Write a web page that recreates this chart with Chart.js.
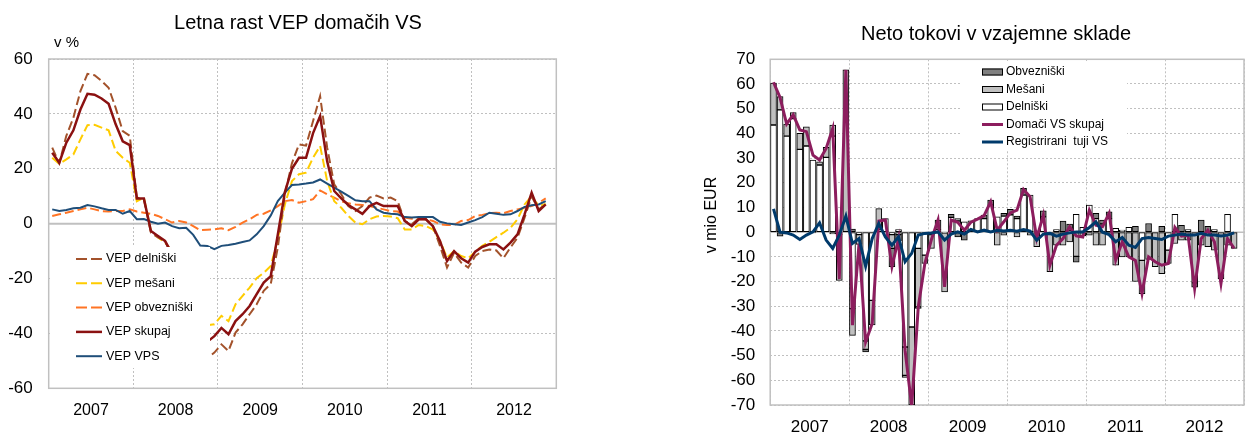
<!DOCTYPE html>
<html lang="sl">
<head>
<meta charset="utf-8">
<title>VEP in neto tokovi v vzajemne sklade</title>
<script src="https://cdn.jsdelivr.net/npm/chart.js@4.4.1/dist/chart.umd.min.js"></script>
<style>
  html, body { margin: 0; padding: 0; background: #fff; overflow: hidden; }
  body { width: 1246px; height: 437px; position: relative; }
  canvas { position: absolute; top: 0; }
  #vepChart { left: 0; }
  #flowChart { left: 660px; }
</style>
</head>
<body>
<canvas id="vepChart" width="596" height="437"></canvas>
<canvas id="flowChart" width="596" height="437"></canvas>
<script>
// months Jan 2007 - Nov 2012 (71 values per series)
const years = ["2007", "2008", "2009", "2010", "2011", "2012"];

// Letna rast VEP domačih VS (v %)
const vepDelniski = [
  27.7, 22, 32, 38.6, 48.3, 54.6, 54.1, 52, 49.5, 42.2, 33.7, 32,
  9.5, 8.8, -3.3, -5, -6.3, -12, -21, -29, -37, -45, -49, -47,
  -44, -46.4, -39.7, -36.7, -33, -29.4, -24.5, -21.9, -8.7, 10.7, 22, 28.9,
  28.4, 37.4, 46.5, 27.7, 14.3, 10.7, 6.4, 4.6, 6.4, 9.5, 10.2, 9.2,
  9.5, 8.2, 1, -0.2, 2, 1.6, -0.9, -8.1, -16, -10.6, -14.2, -16,
  -11.8, -10, -9.4, -9.8, -12.6, -8.7, -5.1, 2.2, 9.9, 5.2, 7
];
const vepMesani = [
  24, 21.8, 23.4, 25.2, 30.7, 35.9, 36, 35, 34, 26.5, 24, 22.2,
  8.2, 9.5, -2.7, -5, -6.9, -10, -16, -22, -27, -33, -37, -36.7,
  -33.6, -35.5, -29.4, -26.3, -23.3, -19.9, -17.9, -15.4, -5.7, 7, 15.5, 18,
  18.6, 24, 28.3, 15.5, 8.2, 5.8, 2.8, 0.4, -0.2, 1.6, 2.6, 2.8,
  2.6, 2, -2.1, -2.1, -0.5, -0.9, -2.1, -6.3, -12.4, -10, -11.8, -12.6,
  -10.2, -8.1, -6.6, -4.9, -3.3, -1.5, 1.6, 7, 10, 6.4, 7.2
];
const vepObvezniski = [
  2.8, 3.4, 4, 4.6, 5.2, 5.8, 5.2, 4.6, 4.4, 4.6, 4.6, 5.2,
  4.4, 4, 3.6, 2.8, 1.6, 0.4, 1, 0.4, -0.9, -2.4, -2.2, -2.1,
  -1.7, -2.4, -1.2, 0.4, 1.6, 3.2, 3.6, 4.8, 6.4, 8.2, 8.6, 7.6,
  8.2, 8.9, 12.1, 10.7, 9.5, 8.2, 7.4, 7, 6.8, 6.4, 5.8, 5.2,
  4.6, 4.4, 2.2, 1.8, 1.6, 1.6, 1, -0.2, -0.5, -0.5, 1, 1.3,
  2.8, 3.2, 3.8, 4, 3.8, 4.6, 5.2, 5.8, 6.4, 7.6, 9.2
];
const vepSkupaj = [
  25.8, 22.2, 29.5, 34, 41.6, 47.3, 47, 45.6, 43.7, 36.2, 30, 28.6,
  9.2, 9.2, -2.7, -4.5, -6.3, -11, -18, -25, -32, -39, -43, -41,
  -38, -40.3, -35.5, -33, -30, -25.7, -21.5, -19.1, -3.9, 11.5, 20, 24,
  24, 33, 39.2, 22.7, 11.9, 9.2, 6.8, 5.2, 3.6, 6.4, 7.6, 6.4,
  6.4, 6.4, 1, -0.9, 1.6, 1.6, -0.9, -6.3, -13.6, -10, -12.6, -14.2,
  -10.2, -8.5, -7.5, -7.5, -9.4, -6.9, -3.9, 3.4, 11.3, 4.6, 7
];
const vepVps = [
  5.2, 4.6, 5, 5.6, 5.8, 6.8, 6.3, 5.6, 5, 5, 3.6, 4.6,
  1.6, 1.7, 0.7, 0, 0.4, -0.9, -1.7, -1.5, -4.1, -8, -8.1, -9.3,
  -8.1, -7.8, -7.3, -6.7, -6.1, -3.9, -0.9, 3, 8.2, 11.3, 14.1, 14.3,
  14.6, 15, 16.1, 14.6, 13.1, 11.7, 10.1, 8.5, 8.2, 8.2, 5.2, 4,
  3.6, 3.4, 2.4, 2.2, 2.4, 2.4, 2.4, 0.7, 0.1, -0.2, -0.5, 0.4,
  1.3, 2.4, 4, 3.6, 3.2, 3.4, 4.6, 6.1, 6.7, 7, 8.2
];

// Neto tokovi v vzajemne sklade (v mio EUR)
const flowDelniski = [
  43.4, 49.5, 38.9, 46, 33.5, 34.9, 29.2, 27.2, 30.3, 38.9, -1, 0,
  -31, -1, -44, -27.6, 1, 5.5, -1, 1, -46.5, -38.4, -6.6, -9.3,
  -1, 1, -0.3, 6, 4.5, 4.2, 4.6, 5.5, 5.5, 11, 6.2, 6.5,
  7, 5.5, 15, 15, 0.5, 6.2, 0, 1, 0, 0.5, 7.2, 2,
  11, 5.5, 3.3, 5.5, 1.5, 0.8, 2, 0, -11.4, 0, 0, 0,
  -7.3, 7.2, 0, 1, 0, 0, 0, 1, 0, 7.2, 0
];
const flowMesani = [
  17, 5.4, 4.9, 2.4, 6.5, 7.8, 0, 1.3, 4, 4.5, -18.5, 65.7,
  -10.8, -4, -3.5, -10, 8.5, 0, -5.6, -1, -11.5, -31.6, -23.7, -3.4,
  -5.6, 0, -23.9, 0, 1, 0, 0, 0, 0, 0, -5.3, -1.2,
  0, -1.9, 0, -1.2, -5.9, 0, -16, -5.3, -5.3, -4, -9.8, -1.5,
  -1.2, -5.3, -5.3, -1, -13.4, -10, -10, -20, -13.5, -11, -14, -16.8,
  -5.4, -4.6, -3.2, -3.2, -20.5, -5.3, -5.9, -7.3, -17.3, -5.3, -6.6
];
const flowObvezniski = [
  0, -1.6, -0.3, 0, 0, 0, -0.3, 0, 0, -0.7, 0, 0,
  1.2, 0, -1, 0, 0, 0, -7.4, -2.5, -0.8, 0, -0.6, 0,
  0, 3.9, 0, 1.2, -1.9, -3.2, 0, 0, 1.4, 2, 0, 1.1,
  2.2, 1, 2.7, 0, 0, 2.4, 0, 0, 4.5, 2.8, -2.4, 0,
  0, 2.1, 1.6, 2.7, 0, 0, 0, 2.4, 0, 3.5, 0, 2.4,
  0, 0, 2.8, 0, -1.8, 4.9, 2.4, 0, -1.5, 0, 0
];
const flowDomaci = [
  60.7, 54.5, 43.8, 47.5, 41.4, 40.7, 31.2, 29.2, 33.9, 42, -19, 65.7,
  -37.7, -4.6, -44.5, -37, 4.5, 4.9, -14, -2.6, -48, -70.5, -30.3, -12.7,
  -3, 4.9, -22.2, 4.9, 4, 0.8, 4, 5.3, 6.7, 12.3, 0.8, 4.2,
  7.8, 8.9, 17.3, 14.3, -2.5, 6.9, -13.4, -5.3, -2.6, 2.2, -1.5, -2,
  8.9, 2.8, 2.2, 7.6, -11.4, -3.9, -10, -11.5, -24.9, -10, -12, -13.4,
  -12.7, 1.9, -1.6, -1.2, -22.8, -2.6, 0.8, -3.9, -20.8, -2.6, -6.6
];
const flowTuji = [
  9.4, 0, -0.3, -1.2, -3, -1.2, 0.1, 3.8, -3.2, -6.6, -1.2, 6.5,
  -4.6, -2.6, -13.8, -2.6, 3.5, -1.9, -5.3, -1.9, -12, -8.6, -1.2, -0.5,
  -0.3, 0.1, -3.2, -0.8, 0.1, -0.8, 1.1, 0.1, 0.8, 0.1, 0.8, 0.5,
  0.8, 0.4, 1.1, 0.4, -3.3, -0.8, -0.5, -1.6, -0.8, -0.3, 0.1, 0.1,
  1.9, 4.2, 0, -1, -3.9, -2.2, -5.3, -6.2, -2.6, -2.2, -2.6, -3,
  -1.6, -1.2, -0.8, -1.2, -1.2, -0.5, -1.2, -1.2, -1.6, -1.2, -0.3
];

const FONT = "'Liberation Sans', Arial, sans-serif";
const GRID = "#C0C0C0";
Chart.defaults.font.family = FONT;
Chart.defaults.color = "#000";

function toPoints(values) {
  return values.map((v, i) => ({ x: i + 0.5, y: v }));
}

function yearTick(value) {
  return value % 12 === 6 ? years[(value - 6) / 12] : "";
}

// zero line, frame, legend box and free texts
const overlayPlugin = {
  id: "overlay",
  beforeDatasetsDraw(chart, args, opts) {
    const { ctx, chartArea: a, scales } = chart;
    ctx.save();
    ctx.strokeStyle = GRID;
    ctx.lineWidth = opts.zeroWidth;
    const y0 = scales.y.getPixelForValue(0);
    ctx.beginPath();
    ctx.moveTo(a.left, y0);
    ctx.lineTo(a.right, y0);
    ctx.stroke();
    ctx.lineWidth = 1.5;
    ctx.strokeRect(a.left, a.top, a.right - a.left, a.bottom - a.top);
    ctx.restore();
  },
  afterDatasetsDraw(chart, args, opts) {
    const { ctx } = chart;
    const L = opts.legend;
    ctx.save();
    ctx.fillStyle = "#fff";
    ctx.fillRect(L.x, L.y, L.w, L.h);
    ctx.font = L.font;
    ctx.textBaseline = "middle";
    L.items.forEach((it, k) => {
      const cy = L.firstY + k * L.step;
      if (it.kind === "box") {
        ctx.fillStyle = it.color;
        ctx.fillRect(L.x1, cy - 3.5, L.x2 - L.x1, 7);
        ctx.strokeStyle = "#000";
        ctx.lineWidth = 1;
        ctx.strokeRect(L.x1 + 0.5, cy - 3, L.x2 - L.x1 - 1, 6);
      } else {
        ctx.strokeStyle = it.color;
        ctx.lineWidth = it.width;
        ctx.setLineDash(it.dash || []);
        ctx.beginPath();
        ctx.moveTo(L.x1, cy);
        ctx.lineTo(L.x2, cy);
        ctx.stroke();
        ctx.setLineDash([]);
      }
      ctx.fillStyle = "#000";
      ctx.fillText(it.label, L.textX, cy);
    });
    opts.texts.forEach(t => {
      ctx.save();
      ctx.font = t.font;
      ctx.textAlign = t.align;
      ctx.textBaseline = t.baseline;
      ctx.translate(t.x, t.y);
      if (t.rotate) ctx.rotate(t.rotate);
      ctx.fillText(t.text, 0, 0);
      ctx.restore();
    });
    ctx.restore();
  }
};

function xAxis(height, pad, size) {
  return {
    type: "linear",
    min: 0,
    max: 72,
    offset: false,
    stacked: true,
    afterFit: s => { s.height = height; },
    ticks: { stepSize: 6, autoSkip: false, maxRotation: 0, padding: pad, font: { size: size }, callback: yearTick },
    grid: {
      offset: false,
      drawTicks: false,
      color: c => (c.tick && c.tick.value % 12 === 0 ? GRID : "transparent")
    },
    border: { display: false, dash: [2, 2] }
  };
}

function yAxis(width, min, max, step, pad, stacked) {
  return {
    min: min,
    max: max,
    stacked: stacked,
    afterFit: s => { s.width = width; },
    ticks: { stepSize: step, padding: pad, font: { size: 17 } },
    grid: {
      drawTicks: false,
      color: c => (c.tick && c.tick.value === 0 ? "transparent" : GRID)
    },
    border: { display: false, dash: [2, 2] }
  };
}

function lineSet(label, values, color, width, dash, order, stack) {
  return {
    type: "line",
    label: label,
    data: toPoints(values),
    borderColor: color,
    backgroundColor: color,
    borderWidth: width,
    borderDash: dash,
    pointRadius: 0,
    tension: 0,
    order: order,
    stack: stack
  };
}

function barSet(label, values, color) {
  return {
    type: "bar",
    label: label,
    data: toPoints(values),
    backgroundColor: color,
    borderColor: "#000",
    borderWidth: 1,
    borderSkipped: false,
    barThickness: 6,
    order: 2
  };
}

const C_DEL = "#A3522B", C_MES = "#FFCC00", C_OBV = "#FF7424", C_SKU = "#8B1111", C_VPS = "#1F4E79";

new Chart(document.getElementById("vepChart"), {
  type: "line",
  data: {
    datasets: [
      lineSet("VEP delniški", vepDelniski, C_DEL, 2, [9, 4], 2),
      lineSet("VEP mešani", vepMesani, C_MES, 2, [9, 4], 3),
      lineSet("VEP obvezniški", vepObvezniski, C_OBV, 2, [9, 4], 4),
      lineSet("VEP skupaj", vepSkupaj, C_SKU, 2.5, [], 0),
      lineSet("VEP VPS", vepVps, C_VPS, 2, [], 1)
    ]
  },
  options: {
    responsive: false,
    animation: false,
    layout: { padding: { top: 59, right: 39.7, left: 0, bottom: 0 } },
    scales: {
      x: xAxis(48.7, 13, 16),
      y: yAxis(48.7, -60, 60, 20, 16, false)
    },
    plugins: {
      legend: { display: false },
      tooltip: { enabled: false },
      overlay: {
        zeroWidth: 2,
        legend: {
          x: 50, y: 247, w: 160, h: 121,
          x1: 76, x2: 102, textX: 106, firstY: 259, step: 24.3,
          font: "12.5px " + FONT,
          items: [
            { kind: "line", label: "VEP delniški", color: C_DEL, width: 2, dash: [11, 4] },
            { kind: "line", label: "VEP mešani", color: C_MES, width: 2, dash: [11, 4] },
            { kind: "line", label: "VEP obvezniški", color: C_OBV, width: 2, dash: [11, 4] },
            { kind: "line", label: "VEP skupaj", color: C_SKU, width: 2.5 },
            { kind: "line", label: "VEP VPS", color: C_VPS, width: 2 }
          ]
        },
        texts: [
          { text: "Letna rast VEP domačih VS", x: 298, y: 28.5, font: "20px " + FONT, align: "center", baseline: "alphabetic" },
          { text: "v %", x: 54, y: 46.5, font: "15px " + FONT, align: "left", baseline: "alphabetic" }
        ]
      }
    }
  },
  plugins: [overlayPlugin]
});

const C_DOM = "#8C1D5E", C_TUJ = "#003A6B";

new Chart(document.getElementById("flowChart"), {
  type: "bar",
  data: {
    datasets: [
      barSet("Delniški", flowDelniski, "#FFFFFF"),
      barSet("Mešani", flowMesani, "#C0C0C0"),
      barSet("Obvezniški", flowObvezniski, "#808080"),
      lineSet("Domači VS skupaj", flowDomaci, C_DOM, 3, [], 1, "dom"),
      lineSet("Registrirani tuji VS", flowTuji, C_TUJ, 3, [], 0, "tuj")
    ]
  },
  options: {
    responsive: false,
    animation: false,
    layout: { padding: { top: 59.3, right: 6.4, left: 0, bottom: 0 } },
    scales: {
      x: xAxis(32, 12, 17),
      y: yAxis(110.2, -70, 70, 10, 15, true)
    },
    plugins: {
      legend: { display: false },
      tooltip: { enabled: false },
      overlay: {
        zeroWidth: 1.5,
        legend: {
          x: 301, y: 61, w: 166, h: 90,
          x1: 322, x2: 343, textX: 346, firstY: 72, step: 17.5,
          font: "12px " + FONT,
          items: [
            { kind: "box", label: "Obvezniški", color: "#808080" },
            { kind: "box", label: "Mešani", color: "#C0C0C0" },
            { kind: "box", label: "Delniški", color: "#FFFFFF" },
            { kind: "line", label: "Domači VS skupaj", color: C_DOM, width: 3 },
            { kind: "line", label: "Registrirani  tuji VS", color: C_TUJ, width: 3 }
          ]
        },
        texts: [
          { text: "Neto tokovi v vzajemne sklade", x: 336, y: 39.5, font: "20px " + FONT, align: "center", baseline: "alphabetic" },
          { text: "v mio EUR", x: 52, y: 215, font: "16px " + FONT, align: "center", baseline: "middle", rotate: -Math.PI / 2 }
        ]
      }
    }
  },
  plugins: [overlayPlugin]
});
</script>
</body>
</html>
